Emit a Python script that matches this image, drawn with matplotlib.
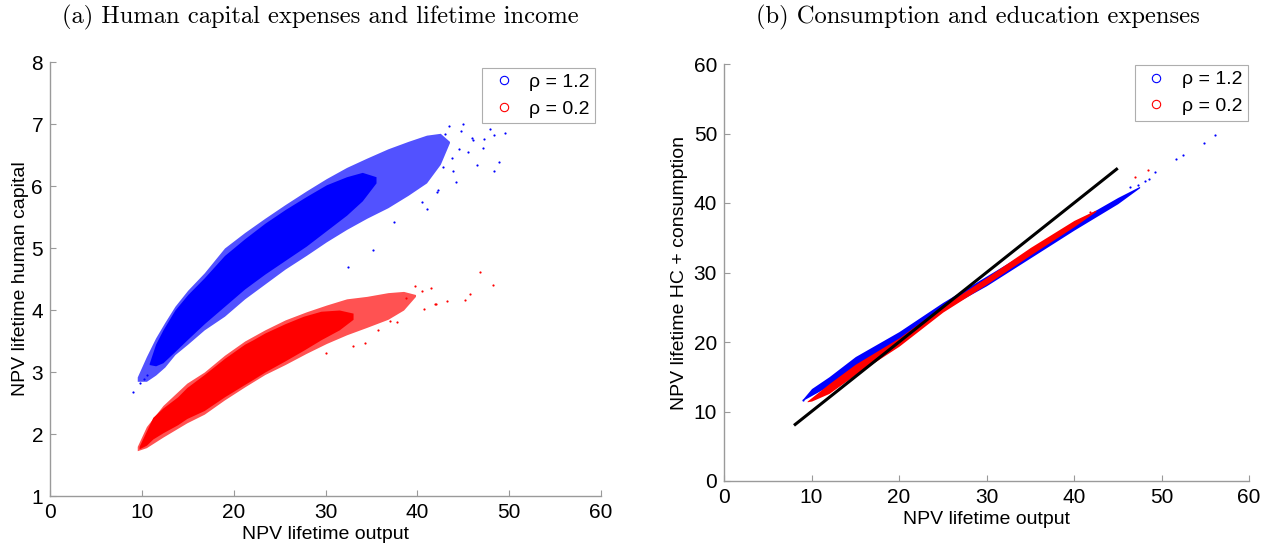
import matplotlib
matplotlib.use("Agg")
import matplotlib.pyplot as plt
from matplotlib.lines import Line2D

# ---------------- data ----------------
# Panel (a): cloud envelopes (dense core and sparser fringe), NPV output vs NPV human capital
a_blue_core_x = [10.8, 11.5, 12.3, 13.6, 15.0, 16.8, 19.0, 21.2, 23.4, 25.6, 27.9, 30.1, 32.3, 34.0, 35.5]
a_blue_core_lo = [3.12, 3.10, 3.15, 3.33, 3.53, 3.78, 4.06, 4.34, 4.58, 4.80, 5.03, 5.28, 5.53, 5.76, 6.05]
a_blue_core_hi = [3.14, 3.45, 3.68, 4.00, 4.25, 4.52, 4.88, 5.15, 5.40, 5.62, 5.83, 6.02, 6.15, 6.22, 6.15]

a_blue_fr_x = [9.5, 10.5, 11.5, 12.5, 13.6, 15.0, 16.8, 19.0, 21.2, 23.4, 25.6, 27.9, 30.1, 32.3, 34.5, 36.8, 39.0, 41.0, 42.5, 43.5]
a_blue_fr_lo = [2.85, 2.85, 2.95, 3.08, 3.28, 3.45, 3.68, 3.90, 4.18, 4.42, 4.66, 4.88, 5.10, 5.30, 5.48, 5.65, 5.85, 6.05, 6.35, 6.70]
a_blue_fr_hi = [2.92, 3.25, 3.55, 3.80, 4.06, 4.32, 4.60, 5.00, 5.25, 5.48, 5.70, 5.92, 6.12, 6.30, 6.45, 6.60, 6.72, 6.82, 6.85, 6.72]

a_red_core_x = [9.7, 10.5, 11.2, 12.3, 13.9, 14.9, 16.8, 19.0, 21.2, 22.1, 23.4, 25.6, 27.6, 29.5, 31.5, 33.0]
a_red_core_lo = [1.76, 1.82, 1.92, 2.02, 2.15, 2.25, 2.38, 2.60, 2.80, 2.88, 3.00, 3.18, 3.35, 3.52, 3.68, 3.85]
a_red_core_hi = [1.80, 2.05, 2.27, 2.42, 2.60, 2.75, 2.96, 3.22, 3.45, 3.52, 3.63, 3.78, 3.90, 3.98, 4.00, 3.95]

a_red_fr_x = [9.5, 10.5, 12.3, 14.9, 16.8, 19.0, 21.2, 23.4, 25.6, 27.9, 30.1, 32.3, 34.5, 36.8, 38.5, 39.8]
a_red_fr_lo = [1.73, 1.78, 1.95, 2.18, 2.32, 2.55, 2.76, 2.96, 3.12, 3.30, 3.46, 3.60, 3.72, 3.85, 4.00, 4.22]
a_red_fr_hi = [1.80, 2.12, 2.46, 2.82, 3.00, 3.27, 3.50, 3.68, 3.84, 3.97, 4.08, 4.18, 4.22, 4.28, 4.30, 4.25]

# isolated points
a_blue_pts_x = [9.07, 9.8, 10.2, 10.6, 32.4, 35.2, 37.5, 40.5, 41.1, 42.1, 42.3, 43.9, 44.2, 42.8, 43.8,
                44.5, 45.5, 46.5, 47.2, 48.3, 48.9, 48.3, 49.6, 47.9, 46.1, 44.8, 43.4, 45.0, 43.0, 45.9, 47.3]
a_blue_pts_y = [2.67, 2.82, 2.88, 2.95, 4.70, 4.97, 5.42, 5.75, 5.63, 5.91, 5.93, 6.24, 6.07, 6.30, 6.45,
                6.60, 6.55, 6.34, 6.61, 6.24, 6.38, 6.82, 6.86, 6.92, 6.75, 6.89, 6.97, 7.00, 6.84, 6.77, 6.76]
a_red_pts_x = [30.0, 33.0, 34.3, 35.7, 37.0, 37.8, 38.8, 39.8, 40.5, 40.7, 41.5, 41.9, 42.0, 43.2, 45.2, 45.7, 46.8, 48.2]
a_red_pts_y = [3.30, 3.42, 3.46, 3.68, 3.82, 3.81, 4.20, 4.38, 4.30, 4.01, 4.35, 4.09, 4.10, 4.15, 4.16, 4.26, 4.62, 4.41]

# Panel (b): band envelopes, NPV output vs NPV HC + consumption
b_blue_x = [9.0, 10.0, 12.0, 15.0, 20.0, 25.0, 30.0, 35.0, 40.0, 45.0, 47.5]
b_blue_lo = [11.6, 12.3, 13.7, 16.3, 20.1, 24.6, 28.1, 32.1, 36.1, 39.9, 42.2]
b_blue_hi = [11.8, 13.3, 15.0, 17.9, 21.5, 25.7, 29.5, 33.3, 37.2, 40.8, 42.4]
b_red_x = [9.5, 10.0, 12.0, 15.0, 20.0, 25.0, 30.0, 35.0, 40.0, 42.5]
b_red_lo = [11.4, 11.5, 12.6, 15.3, 19.4, 24.3, 28.3, 32.5, 36.6, 38.8]
b_red_hi = [11.5, 12.0, 14.0, 16.8, 20.6, 25.2, 29.3, 33.6, 37.5, 39.0]
b_blue_pts_x = [9.0, 46.4, 47.3, 48.1, 48.6, 49.2, 51.7, 52.4, 54.9, 56.1]
b_blue_pts_y = [11.7, 42.3, 42.6, 43.1, 43.5, 44.4, 46.4, 46.9, 48.7, 49.8]
b_red_pts_x = [41.8, 47.0, 48.5]
b_red_pts_y = [38.7, 43.7, 44.7]
line45_x = [8, 45]
line45_y = [8, 45]

series_labels = ["\u03c1 = 1.2", "\u03c1 = 0.2"]
series_colors = ["#0000ff", "#ff0000"]

titles = ["(a) Human capital expenses and lifetime income",
          "(b) Consumption and education expenses"]
xlabel = "NPV lifetime output"
ylabels = ["NPV lifetime human capital", "NPV lifetime HC + consumption"]

# ---------------- figure ----------------
plt.rcParams['font.family'] = ['Liberation Sans', 'DejaVu Sans']
fig = plt.figure(figsize=(12.76, 5.48), dpi=100)

axA = fig.add_axes([50 / 1276, 1 - 496 / 548, 551 / 1276, 434 / 548])
axB = fig.add_axes([724 / 1276, 1 - 481 / 548, 525 / 1276, 417 / 548])

spine_col = "#9a9a9a"


def style(ax):
    for s in ["top", "right"]:
        ax.spines[s].set_visible(False)
    for s in ["left", "bottom"]:
        ax.spines[s].set_color(spine_col)
        ax.spines[s].set_linewidth(1.0)
    ax.tick_params(direction="in", length=4, width=0.8, color=spine_col,
                   labelsize=15, labelcolor="black", pad=5)


blue, red = series_colors

# Panel (a)
axA.fill_between(a_blue_fr_x, a_blue_fr_lo, a_blue_fr_hi, color=blue, alpha=0.68, lw=0)
axA.fill_between(a_blue_core_x, a_blue_core_lo, a_blue_core_hi, color=blue, lw=0)
axA.scatter(a_blue_pts_x, a_blue_pts_y, s=2.5, color=blue, lw=0)
axA.fill_between(a_red_fr_x, a_red_fr_lo, a_red_fr_hi, color=red, alpha=0.68, lw=0)
axA.fill_between(a_red_core_x, a_red_core_lo, a_red_core_hi, color=red, lw=0)
axA.scatter(a_red_pts_x, a_red_pts_y, s=2.5, color=red, lw=0)
axA.set_xlim(0, 60)
axA.set_ylim(1, 8)
axA.set_xticks(range(0, 61, 10))
axA.set_yticks(range(1, 9))
style(axA)

# Panel (b)
axB.fill_between(b_blue_x, b_blue_lo, b_blue_hi, color=blue, lw=0)
axB.scatter(b_blue_pts_x, b_blue_pts_y, s=2.5, color=blue, lw=0)
axB.fill_between(b_red_x, b_red_lo, b_red_hi, color=red, lw=0)
axB.scatter(b_red_pts_x, b_red_pts_y, s=2.5, color=red, lw=0)
axB.plot(line45_x, line45_y, color="black", lw=2.2, solid_capstyle="butt", zorder=5)
axB.set_xlim(0, 60)
axB.set_ylim(0, 60)
axB.set_xticks(range(0, 61, 10))
axB.set_yticks(range(0, 61, 10))
style(axB)

for ax, yl, bap, lp in zip([axA, axB], ylabels, [0.3, 0.05], [2, 4]):
    ax.set_xlabel(xlabel, fontsize=14, labelpad=3)
    ax.set_ylabel(yl, fontsize=14, labelpad=lp)
    handles = [Line2D([], [], ls="none", marker="o", mfc="none", mec=c, ms=6, mew=0.8)
               for c in series_colors]
    leg = ax.legend(handles, series_labels, loc="upper right", fontsize=14,
                    frameon=True, fancybox=False, borderpad=0.3, handletextpad=0.5,
                    labelspacing=0.45, handlelength=1.6, borderaxespad=bap)
    leg.get_frame().set_edgecolor(spine_col)
    leg.get_frame().set_linewidth(0.8)

fig.text(320 / 1276, 1 - 17 / 548, titles[0], family="cmr10",
         fontsize=17.7, ha="center", va="center")
fig.text(978 / 1276, 1 - 17 / 548, titles[1], family="cmr10",
         fontsize=17.7, ha="center", va="center")

fig.savefig("out.png", dpi=100)
